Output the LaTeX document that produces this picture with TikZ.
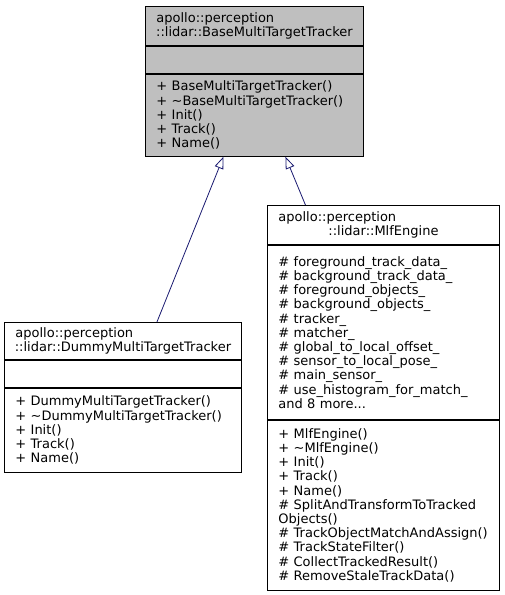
\documentclass[tikz,border=0pt]{standalone}
\usepackage{fontspec}
\setmainfont{DejaVu Sans}
\usetikzlibrary{arrows.meta}
\definecolor{basegray}{HTML}{BFBFBF}
\definecolor{edgeblue}{HTML}{191970}
\newcommand{\classfont}{\fontsize{13}{14.2}\selectfont}

\begin{document}
\begin{tikzpicture}[x=1pt,y=-1pt,
    classpart/.style={draw=black, line width=0.9pt, anchor=north west,
      inner xsep=11pt, inner ysep=0pt, align=left, font=\classfont},
    inherit/.style={draw=edgeblue, line width=0.8pt,
      -{Triangle[open,length=12pt,width=9pt]}}]
  \useasboundingbox (0,0) rectangle (504,595);
  \def\ctr#1{\makebox[\linewidth]{#1}}

  % base class
  \node[classpart, fill=basegray, text width=196pt, minimum height=39pt] (basetitle) at (145,6)
    {apollo::perception\\\ctr{::lidar::BaseMultiTargetTracker}};
  \node[classpart, fill=basegray, text width=196pt, minimum height=27pt] (baseattr) at (basetitle.south west) {};
  \node[classpart, fill=basegray, text width=196pt, minimum height=82pt] (baseops) at (baseattr.south west)
    {+ BaseMultiTargetTracker()\\+ \textasciitilde BaseMultiTargetTracker()\\+ Init()\\+ Track()\\+ Name()};

  % dummy tracker
  \node[classpart, text width=215pt, minimum height=37pt] (dummytitle) at (4,322)
    {apollo::perception\\\ctr{::lidar::DummyMultiTargetTracker}};
  \node[classpart, text width=215pt, minimum height=27pt] (dummyattr) at (dummytitle.south west) {};
  \node[classpart, text width=215pt, minimum height=84pt] (dummyops) at (dummyattr.south west)
    {+ DummyMultiTargetTracker()\\+ \textasciitilde DummyMultiTargetTracker()\\+ Init()\\+ Track()\\+ Name()};

  % mlf engine
  \node[classpart, text width=210pt, minimum height=39pt] (mlftitle) at (267,205)
    {apollo::perception\\\ctr{::lidar::MlfEngine}};
  \node[classpart, text width=210pt, minimum height=174pt] (mlfattr) at (mlftitle.south west)
    {\# foreground\_track\_data\_\\\# background\_track\_data\_\\\# foreground\_objects\_\\%
     \# background\_objects\_\\\# tracker\_\\\# matcher\_\\\# global\_to\_local\_offset\_\\%
     \# sensor\_to\_local\_pose\_\\\# main\_sensor\_\\\# use\_histogram\_for\_match\_\\and 8 more...};
  \node[classpart, text width=210pt, minimum height=170pt] (mlfops) at (mlfattr.south west)
    {+ MlfEngine()\\+ \textasciitilde MlfEngine()\\+ Init()\\+ Track()\\+ Name()\\%
     \# SplitAndTransformToTracked\\Objects()\\\# TrackObjectMatchAndAssign()\\%
     \# TrackStateFilter()\\\# CollectTrackedResult()\\\# RemoveStaleTrackData()};

  % inheritance
  \draw[inherit] ([xshift=34pt]dummytitle.north) -- ([xshift=-31pt]baseops.south);
  \draw[inherit] ([xshift=-78pt]mlftitle.north) -- ([xshift=31pt]baseops.south);
\end{tikzpicture}
\end{document}
